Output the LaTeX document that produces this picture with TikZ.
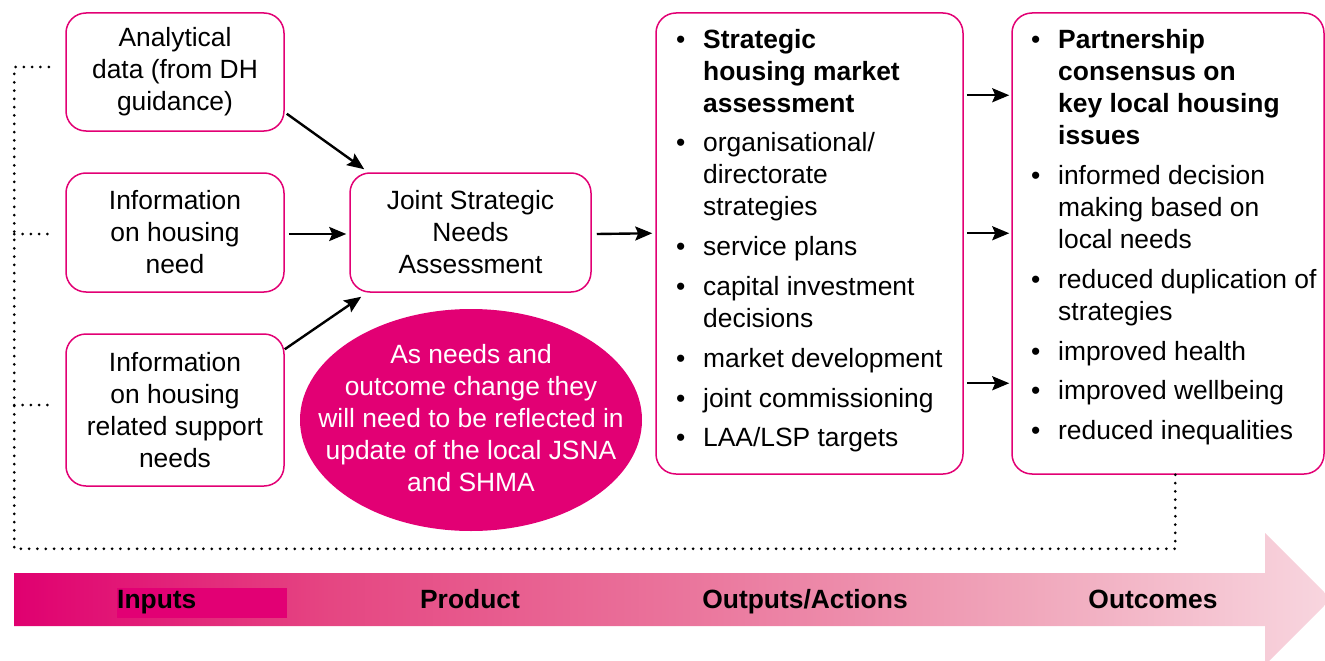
\documentclass[tikz,border=0pt]{standalone}
\usepackage{fontspec}
\setmainfont{Liberation Sans}
\usetikzlibrary{shapes.geometric,arrows.meta,calc}
\definecolor{mag}{RGB}{226,0,116}
\definecolor{bcA}{RGB}{224,0,112}
\definecolor{bcB}{RGB}{229,70,130}
\definecolor{bcC}{RGB}{234,115,155}
\definecolor{bcD}{RGB}{240,165,186}
\definecolor{bcE}{RGB}{248,214,223}
\pgfdeclarehorizontalshading{bandshade}{100bp}{color(0bp)=(bcA); color(25bp)=(bcA); color(37bp)=(bcB); color(50bp)=(bcC); color(63bp)=(bcD); color(75bp)=(bcE); color(100bp)=(bcE)}
\newcommand\fsz{\fontsize{26.4}{32}\selectfont}
\begin{document}
\begin{tikzpicture}[x=1pt,y=-1pt,
  box/.style={draw=mag,line width=1.5pt,rounded corners=20pt,fill=white,inner sep=0pt,align=center,font=\fsz},
  arr/.style={line width=2.4pt,-{Stealth[length=17pt,width=14pt,inset=3pt]}},
  dots/.style={line width=3pt,line cap=round,dash pattern=on 0pt off 8.3pt},
  band/.style={font=\fsz\bfseries,inner sep=0pt},
  list/.style={anchor=north west,inner sep=0pt,font=\fsz}]
\useasboundingbox (0,0) rectangle (1325,661);

% bottom band arrow
\shade[shading=bandshade] (14,573) -- (1265,573) -- (1265,533) -- (1331,599) -- (1265,665) -- (1265,626) -- (14,626) -- cycle;
\fill[mag] (117,588) rectangle (287,618);
\node[band,anchor=base west] (lin) at (117,608) {Inputs};
\node[band,anchor=base] (lpr) at (470,608) {Product};
\node[band,anchor=base] (lout) at (805,608) {Outputs/Actions};
\node[band,anchor=base] (loc) at (1153,608) {Outcomes};

% input boxes
\node[box,minimum width=218pt,minimum height=118pt] (in1) at (175,72) {Analytical\\data (from DH\\guidance)};
\node[box,minimum width=218pt,minimum height=119pt] (in2) at (175,232.5) {Information\\on housing\\need};
\node[box,minimum width=218pt,minimum height=152pt] (in3) at (175,410) {Information\\on housing\\related support\\needs};
\node[box,minimum width=241pt,minimum height=119pt] (jsna) at (470.5,232.5) {Joint Strategic\\Needs\\Assessment};

% ellipse
\node[ellipse,fill=mag,minimum width=342pt,minimum height=222pt,inner sep=0pt] (ell) at (471,420) {};
\node[font=\fsz,text=white,align=center,inner sep=0pt] (ellt) at (471,418) {As needs and\\outcome change they\\will need to be reflected in\\update of the local JSNA\\and SHMA};

% output and outcome boxes
\node[box,minimum width=307pt,minimum height=461pt] (outp) at (809.5,243.5) {};
\node[box,minimum width=312pt,minimum height=461pt] (outc) at (1168,243.5) {};

\node[list] (outpt) at (676,26) {\begin{tabular}{@{}p{27pt}@{}l@{}}
\textbullet & \textbf{Strategic}\\
 & \textbf{housing market}\\
 & \textbf{assessment}\\[7pt]
\textbullet & organisational/\\
 & directorate\\
 & strategies\\[8pt]
\textbullet & service plans\\[8pt]
\textbullet & capital investment\\
 & decisions\\[8pt]
\textbullet & market development\\[8pt]
\textbullet & joint commissioning\\[7pt]
\textbullet & LAA/LSP targets
\end{tabular}};

\node[list] (outct) at (1031,26) {\begin{tabular}{@{}p{27pt}@{}l@{}}
\textbullet & \textbf{Partnership}\\
 & \textbf{consensus on}\\
 & \textbf{key local housing}\\
 & \textbf{issues}\\[8pt]
\textbullet & informed decision\\
 & making based on\\
 & local needs\\[8pt]
\textbullet & reduced duplication of\\
 & strategies\\[8pt]
\textbullet & improved health\\[7pt]
\textbullet & improved wellbeing\\[8pt]
\textbullet & reduced inequalities
\end{tabular}};

% arrows
\draw[arr] ($(in1.south east)+(2,-18)$) -- ($(jsna.north west)+(15,-3)$);
\draw[arr] ($(in2.east)+(4,1.5)$) -- ($(jsna.west)+(-3,1.5)$);
\draw[arr] ($(in3.north east)+(0,16)$) -- ($(jsna.south west)+(12,4)$);
\draw[arr] ($(jsna.east)+(5,1.5)$) -- ($(outp.north west)+(-3,221)$);
\draw[arr] ($(outp.north east)+(3,83)$) -- ($(outc.north west)+(-2,83)$);
\draw[arr] ($(outp.north east)+(3,221)$) -- ($(outc.north west)+(-2,221)$);
\draw[arr] ($(outp.north east)+(3,371)$) -- ($(outc.north west)+(-2,371)$);

% dotted feedback line
\coordinate (dc) at ($(outc.south west)+(164,0)$);
\coordinate (d1) at ($(in1.west)+(-14,-5)$);
\draw[dots] (dc) -- ++(0,74) -| ($(d1)+(-37,0)$) -- (d1);
\draw[dots] ($(in2.west)+(-51,1.5)$) -- ($(in2.west)+(-14,1.5)$);
\draw[dots] ($(in3.west)+(-51,-5)$) -- ($(in3.west)+(-14,-5)$);
\end{tikzpicture}
\end{document}
